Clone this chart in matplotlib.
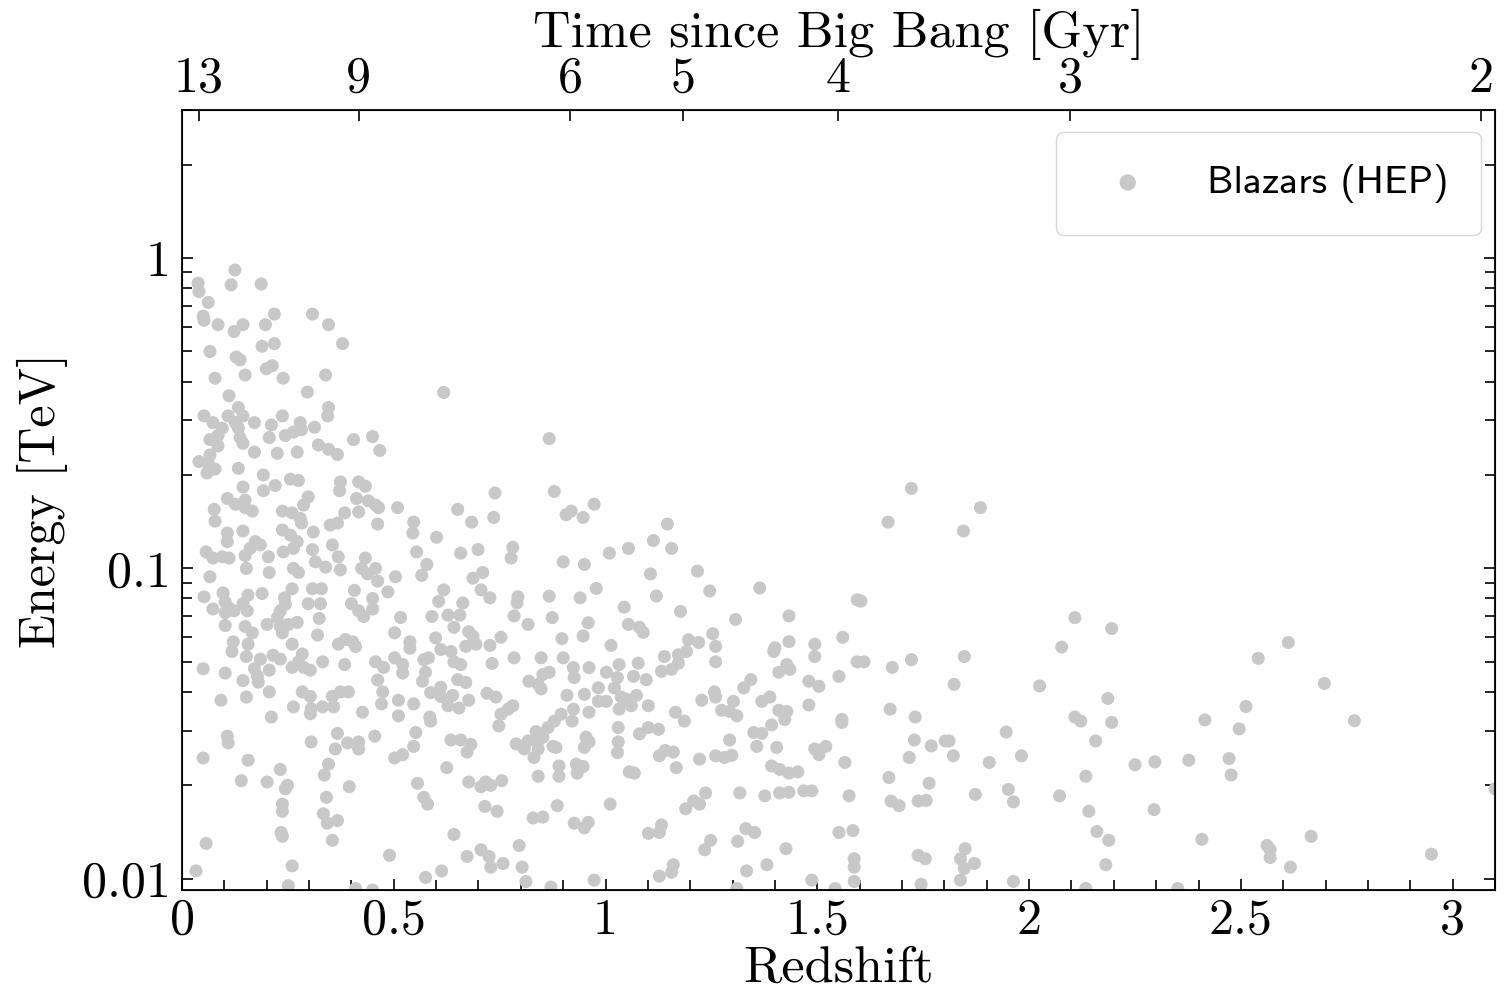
import matplotlib
matplotlib.use("Agg")
import matplotlib.pyplot as plt
from matplotlib.ticker import MultipleLocator, FuncFormatter, LogLocator, NullFormatter

# redshift / energy, grouped by region
redshift = [
    # z < 0.5, upper part
    0.125, 0.038, 0.040, 0.116, 0.187, 0.062, 0.050, 0.052, 0.085, 0.123, 0.144, 0.197, 0.218, 0.308, 0.346, 0.379,
    0.066, 0.128, 0.137, 0.189, 0.218, 0.199, 0.213, 0.078, 0.149, 0.239, 0.339, 0.296, 0.111, 0.133,
    0.052, 0.109, 0.144, 0.073, 0.126, 0.133, 0.171, 0.237, 0.211, 0.279, 0.346, 0.344, 0.095,
    0.085, 0.066, 0.085, 0.137, 0.144, 0.206, 0.244, 0.263, 0.282, 0.313, 0.322, 0.346, 0.367, 0.405, 0.450, 0.467,
    0.171, 0.225, 0.272, 0.040, 0.066, 0.062, 0.059, 0.078, 0.133, 0.192, 0.192, 0.220, 0.256, 0.275,
    0.374, 0.372, 0.417, 0.433, 0.144, 0.149, 0.107, 0.126, 0.149, 0.166, 0.076, 0.078,
    0.237, 0.260, 0.279, 0.282, 0.287, 0.298, 0.384, 0.412, 0.417, 0.440, 0.457, 0.464, 0.509, 0.462,
    0.350, 0.367, 0.144, 0.107, 0.107, 0.237, 0.256, 0.310, 0.173, 0.185, 0.161, 0.272, 0.263, 0.239, 0.355,
    0.057, 0.073, 0.095, 0.111, 0.149, 0.152, 0.204, 0.206, 0.308, 0.315, 0.339, 0.369, 0.374, 0.263, 0.275,
    0.433, 0.424, 0.457, 0.438, 0.504, 0.066,
    # z < 0.5, lower part
    0.462, 0.486, 0.052, 0.097, 0.102, 0.109, 0.073, 0.102, 0.123, 0.144, 0.156, 0.154, 0.189, 0.260,
    0.308, 0.329, 0.298, 0.327, 0.242, 0.244, 0.232, 0.225, 0.232, 0.237, 0.324, 0.102,
    0.149, 0.166, 0.156, 0.152, 0.201, 0.272, 0.251, 0.320, 0.121, 0.118, 0.260, 0.284, 0.215, 0.232, 0.185,
    0.260, 0.275, 0.287, 0.303, 0.206, 0.171, 0.178, 0.180, 0.050, 0.102, 0.144, 0.332,
    0.369, 0.386, 0.403, 0.410, 0.407, 0.400, 0.417, 0.429, 0.450, 0.450, 0.516, 0.502, 0.384,
    0.457, 0.476, 0.502, 0.521, 0.521, 0.462, 0.474, 0.471, 0.511, 0.511, 0.152, 0.092, 0.206,
    0.284, 0.303, 0.305, 0.303, 0.263, 0.211, 0.332, 0.358, 0.355, 0.374, 0.393, 0.426, 0.455,
    0.367, 0.391, 0.362, 0.417, 0.417, 0.305, 0.107, 0.109, 0.050, 0.156, 0.502, 0.521,
    0.232, 0.346, 0.336, 0.140, 0.201, 0.249, 0.244, 0.395, 0.237, 0.237, 0.341, 0.334, 0.343, 0.367,
    0.234, 0.237, 0.355, 0.057, 0.490, 0.260, 0.033, 0.251, 0.410, 0.450,
    # 0.5 < z < 1.05, upper part
    0.618, 0.867, 0.739, 0.879, 0.547, 0.545, 0.651, 0.684, 0.736, 0.601, 0.907, 0.919, 0.947, 0.973,
    0.554, 0.578, 0.566, 0.658, 0.699, 0.710, 0.687, 0.781, 0.777, 0.900, 0.950, 1.009, 1.054,
    # 0.5 < z < 1.05, lower part
    0.706, 0.727, 0.618, 0.606, 0.663, 0.590, 0.628, 0.656, 0.642, 0.793, 0.791, 0.784, 0.867, 0.874, 0.817,
    0.940, 0.978, 0.959, 0.947, 1.044, 1.054, 0.897, 1.013, 0.753, 0.727, 0.732, 0.784, 0.848, 0.900,
    0.538, 0.538, 0.599, 0.611, 0.635, 0.642, 0.658, 0.677, 0.687, 0.670, 0.694, 0.571, 0.582, 0.575, 0.568,
    0.587, 0.611, 0.611, 0.639, 0.628, 0.654, 0.677, 0.651, 0.670, 0.720, 0.741, 0.547, 0.585, 0.587, 0.552,
    0.547, 0.635, 0.658, 0.682, 0.673, 0.753, 0.770, 0.781, 0.748, 0.625, 0.556, 0.571, 0.580,
    0.677, 0.706, 0.717, 0.729, 0.755, 0.715, 0.744, 0.642, 0.673, 0.706, 0.725, 0.729, 0.758,
    0.796, 0.803, 0.812, 0.575, 0.613, 0.871, 0.973,
    0.789, 0.808, 0.817, 0.836, 0.841, 0.852, 0.831, 0.841, 0.864, 0.879, 0.895, 0.921, 0.924,
    0.819, 0.841, 0.852, 0.867, 0.848, 0.909, 0.924, 0.926, 0.950, 0.983, 0.961, 0.961,
    1.002, 1.028, 1.021, 1.032, 0.983, 1.002, 1.037, 1.032, 1.054, 1.030, 1.030, 1.028, 1.056,
    0.876, 0.883, 0.890, 0.890, 0.931, 0.947, 0.933, 0.841, 0.954, 0.961, 0.950,
    0.886, 0.829, 0.852, 0.926, 0.950, 0.959, 1.011,
    # 1.05 < z < 1.6
    1.146, 1.113, 1.156, 1.106, 1.217,
    1.120, 1.246, 1.364, 1.177, 1.307, 1.433, 1.080, 1.089,
    1.196, 1.220, 1.191, 1.172, 1.172, 1.156, 1.139, 1.132, 1.253, 1.260, 1.260, 1.077, 1.066, 1.096,
    1.049, 1.061, 1.073, 1.101, 1.397, 1.400, 1.433, 1.494, 1.494, 1.560, 1.594,
    1.409, 1.428, 1.435, 1.480, 1.504, 1.551, 1.326, 1.343, 1.257, 1.260, 1.227,
    1.274, 1.293, 1.302, 1.310, 1.369, 1.388, 1.409, 1.428, 1.423, 1.480, 1.558, 1.558,
    1.165, 1.186, 1.392, 1.080, 1.101, 1.125, 1.350, 1.369, 1.357, 1.293, 1.404,
    1.127, 1.141, 1.160, 1.222, 1.260, 1.281, 1.298, 1.494, 1.504, 1.520, 1.068, 1.167,
    1.392, 1.411, 1.433, 1.454, 1.565, 1.189, 1.208, 1.222, 1.236, 1.317,
    1.376, 1.411, 1.433, 1.468, 1.487, 1.575, 1.101, 1.127, 1.132, 1.234, 1.248, 1.312,
    1.331, 1.352, 1.426, 1.551, 1.584, 1.127, 1.160, 1.156, 1.333, 1.381, 1.487, 1.542,
    1.587, 1.587, 1.587, 1.310,
    # z > 1.6
    1.722, 1.667, 1.885, 1.845,
    1.603, 1.594, 1.610, 1.677, 1.722, 1.847, 1.823, 1.672, 1.731, 1.729, 1.717, 1.769, 1.802, 1.811,
    1.821, 1.906, 1.946, 1.982, 2.025, 2.077, 2.108, 2.195, 2.186, 2.108, 2.122, 2.195, 2.157, 2.134,
    1.669, 1.764, 1.674, 1.693, 1.738, 1.757, 1.873, 1.951, 1.963, 2.072, 2.141, 2.160, 2.188, 2.181,
    2.250, 2.297, 2.295, 1.738, 1.755, 1.849, 1.838, 1.847, 1.871, 1.838, 1.745, 1.963, 2.134, 2.351,
    2.612, 2.541, 2.697, 2.512, 2.415, 2.496, 2.768, 2.377, 2.472, 2.477, 3.100, 2.408,
    2.562, 2.569, 2.569, 2.666, 2.617, 2.950,
]

energy = [
    # z < 0.5, upper part
    0.915, 0.83, 0.78, 0.82, 0.825, 0.72, 0.65, 0.63, 0.61, 0.58, 0.61, 0.61, 0.66, 0.66, 0.61, 0.53,
    0.50, 0.48, 0.47, 0.52, 0.53, 0.44, 0.45, 0.41, 0.42, 0.41, 0.42, 0.37, 0.36, 0.33,
    0.31, 0.31, 0.31, 0.295, 0.295, 0.283, 0.295, 0.31, 0.29, 0.295, 0.33, 0.31, 0.283,
    0.268, 0.26, 0.248, 0.264, 0.253, 0.264, 0.268, 0.275, 0.28, 0.285, 0.25, 0.242, 0.233, 0.26, 0.266, 0.24,
    0.237, 0.235, 0.237, 0.221, 0.232, 0.218, 0.203, 0.209, 0.21, 0.20, 0.178, 0.185, 0.194, 0.192,
    0.19, 0.178, 0.19, 0.184, 0.183, 0.166, 0.168, 0.161, 0.157, 0.153, 0.155, 0.142,
    0.153, 0.151, 0.145, 0.140, 0.16, 0.17, 0.151, 0.168, 0.152, 0.165, 0.16, 0.157, 0.157, 0.139,
    0.138, 0.14, 0.132, 0.13, 0.122, 0.133, 0.128, 0.131, 0.122, 0.119, 0.116, 0.122, 0.116, 0.113, 0.119,
    0.113, 0.108, 0.109, 0.108, 0.11, 0.1, 0.109, 0.097, 0.115, 0.105, 0.101, 0.109, 0.099, 0.1, 0.097,
    0.108, 0.1, 0.1, 0.096, 0.094, 0.094,
    # z < 0.5, lower part
    0.091, 0.084, 0.081, 0.0834, 0.078, 0.075, 0.074, 0.072, 0.073, 0.077, 0.082, 0.073, 0.083, 0.086,
    0.086, 0.086, 0.077, 0.077, 0.0804, 0.0766, 0.073, 0.0694, 0.065, 0.062, 0.069, 0.0655,
    0.065, 0.062, 0.057, 0.052, 0.066, 0.067, 0.066, 0.061, 0.058, 0.054, 0.057, 0.053, 0.0525, 0.051, 0.051,
    0.048, 0.05, 0.048, 0.047, 0.047, 0.0475, 0.045, 0.043, 0.0475, 0.046, 0.0435, 0.05,
    0.057, 0.059, 0.058, 0.056, 0.085, 0.077, 0.073, 0.070, 0.074, 0.080, 0.0695, 0.062, 0.049,
    0.05, 0.048, 0.0515, 0.049, 0.046, 0.0437, 0.040, 0.0366, 0.0376, 0.0335, 0.0385, 0.0376, 0.040,
    0.040, 0.0387, 0.0353, 0.034, 0.0358, 0.0332, 0.0358, 0.0358, 0.0387, 0.040, 0.040, 0.0344, 0.0288,
    0.0294, 0.0274, 0.0262, 0.0276, 0.0262, 0.0276, 0.0288, 0.0274, 0.0245, 0.0241, 0.0245, 0.0251,
    0.0225, 0.0234, 0.0216, 0.0207, 0.0205, 0.020, 0.0195, 0.0198, 0.0174, 0.0165, 0.0183, 0.0162, 0.0151, 0.0154,
    0.0141, 0.0137, 0.0133, 0.013, 0.0119, 0.011, 0.0106, 0.0095, 0.0093, 0.0092,
    # 0.5 < z < 1.05, upper part
    0.369, 0.262, 0.175, 0.177, 0.141, 0.130, 0.155, 0.141, 0.146, 0.126, 0.149, 0.153, 0.146, 0.161,
    0.113, 0.103, 0.095, 0.112, 0.115, 0.097, 0.093, 0.117, 0.108, 0.105, 0.103, 0.112, 0.116,
    # 0.5 < z < 1.05, lower part
    0.0853, 0.0804, 0.0853, 0.0783, 0.0774, 0.070, 0.0707, 0.0707, 0.0646, 0.081, 0.0774, 0.0703, 0.0814, 0.0694, 0.066,
    0.0804, 0.0862, 0.0668, 0.0606, 0.075, 0.066, 0.0594, 0.0565, 0.060, 0.0565, 0.0494, 0.0515, 0.0515, 0.0515,
    0.058, 0.0553, 0.0597, 0.0548, 0.054, 0.050, 0.049, 0.0625, 0.0604, 0.0561, 0.057, 0.0508, 0.0515, 0.0463, 0.0433,
    0.0398, 0.0414, 0.0387, 0.039, 0.0361, 0.0355, 0.0376, 0.0438, 0.0429, 0.0396, 0.0385, 0.0366, 0.0332, 0.0322, 0.0296,
    0.0267, 0.028, 0.028, 0.0271, 0.0256, 0.0339, 0.0352, 0.0361, 0.0311, 0.0228, 0.0203, 0.0183, 0.0174,
    0.0205, 0.0198, 0.0205, 0.020, 0.0207, 0.0171, 0.0165, 0.0139, 0.0118, 0.0124, 0.0118, 0.0109, 0.0112,
    0.0128, 0.0109, 0.0098, 0.0101, 0.0106, 0.0094, 0.0099,
    0.0272, 0.0262, 0.0278, 0.0298, 0.0278, 0.0286, 0.0246, 0.0262, 0.0307, 0.0322, 0.0339, 0.0322, 0.0352,
    0.0433, 0.0423, 0.0455, 0.0463, 0.0409, 0.039, 0.0479, 0.0445, 0.0393, 0.0412, 0.0344, 0.0479,
    0.0463, 0.0445, 0.0412, 0.049, 0.0373, 0.0373, 0.0385, 0.0352, 0.0373, 0.0307, 0.0276, 0.0255, 0.0221,
    0.0267, 0.0265, 0.0231, 0.0214, 0.0234, 0.023, 0.0219, 0.0214, 0.0286, 0.0276, 0.0265,
    0.0172, 0.0157, 0.0158, 0.0151, 0.0146, 0.0152, 0.0174,
    # 1.05 < z < 1.6
    0.139, 0.123, 0.116, 0.096, 0.098,
    0.0815, 0.0846, 0.0865, 0.0727, 0.0685, 0.0703, 0.0646, 0.0622,
    0.0589, 0.0577, 0.054, 0.0527, 0.0495, 0.0473, 0.052, 0.0466, 0.0616, 0.0561, 0.050, 0.0495, 0.0449, 0.0438,
    0.0379, 0.0361, 0.039, 0.0361, 0.054, 0.0555, 0.0581, 0.057, 0.052, 0.060, 0.0792,
    0.0463, 0.049, 0.0473, 0.0433, 0.0417, 0.0449, 0.0412, 0.0438, 0.040, 0.0385, 0.0376,
    0.0349, 0.0346, 0.0373, 0.0335, 0.0373, 0.0385, 0.0349, 0.0346, 0.0326, 0.0363, 0.0326, 0.0319,
    0.0344, 0.0322, 0.0313, 0.0293, 0.0307, 0.0303, 0.0296, 0.0294, 0.0267, 0.028, 0.0265,
    0.0249, 0.0259, 0.0256, 0.0243, 0.0249, 0.0246, 0.025, 0.0262, 0.0251, 0.0267, 0.0219, 0.0228,
    0.0231, 0.0225, 0.0219, 0.0221, 0.0237, 0.0168, 0.0178, 0.0174, 0.0189, 0.0189,
    0.0185, 0.0189, 0.019, 0.0192, 0.0192, 0.0185, 0.014, 0.0141, 0.0149, 0.0124, 0.0133, 0.0132,
    0.0145, 0.0141, 0.0125, 0.0141, 0.0143, 0.0102, 0.0111, 0.0105, 0.0106, 0.0111, 0.0099, 0.0093,
    0.0116, 0.0109, 0.0098, 0.0093,
    # z > 1.6
    0.181, 0.141, 0.157, 0.132,
    0.0785, 0.050, 0.050, 0.048, 0.0508, 0.052, 0.0423, 0.0352, 0.0332, 0.028, 0.0246, 0.0268, 0.0278, 0.0278,
    0.0249, 0.0237, 0.0297, 0.0249, 0.0418, 0.0558, 0.0694, 0.064, 0.0381, 0.0332, 0.0322, 0.0319, 0.0278, 0.0214,
    0.0212, 0.0203, 0.0178, 0.0172, 0.0178, 0.0179, 0.0187, 0.0194, 0.0177, 0.0185, 0.0165, 0.0142, 0.0133, 0.0111,
    0.0233, 0.0238, 0.0167, 0.0119, 0.0116, 0.0125, 0.0116, 0.0108, 0.0112, 0.0099, 0.0096, 0.0098, 0.0093, 0.0093,
    0.0577, 0.0513, 0.0426, 0.0359, 0.0325, 0.0304, 0.0323, 0.0241, 0.0244, 0.0216, 0.0195, 0.0134,
    0.0128, 0.0124, 0.0117, 0.0137, 0.0109, 0.0120,
]

# top axis: cosmic time [Gyr] and the redshift where each tick sits
age_ticks = [13, 9, 6, 5, 4, 3, 2]
age_tick_z = [0.039, 0.417, 0.917, 1.182, 1.548, 2.097, 3.066]

assert len(redshift) == len(energy), (len(redshift), len(energy))

plt.rcParams["font.family"] = "cmr10"
plt.rcParams["mathtext.fontset"] = "cm"
plt.rcParams["axes.formatter.use_mathtext"] = True

fig = plt.figure(figsize=(15.04, 10), dpi=100)
ax = fig.add_axes([182 / 1504, 0.11, (1495 - 182) / 1504, 0.78])

ax.scatter(redshift, energy, s=88, color="#c8c8c8", edgecolors="none",
           label="Blazars (HEP)", zorder=2)

ax.set_yscale("log")
ax.set_xlim(0, 3.1)
ax.set_ylim(0.0092, 3.0)
ax.set_yticks([0.01, 0.1, 1], labels=["0.01", "0.1", "1"])
ax.yaxis.set_minor_locator(LogLocator(subs=range(2, 10)))
ax.yaxis.set_minor_formatter(NullFormatter())
ax.xaxis.set_major_locator(MultipleLocator(0.5))
ax.xaxis.set_minor_locator(MultipleLocator(0.1))
ax.xaxis.set_major_formatter(FuncFormatter(lambda v, p: f"{v:g}"))

ax.tick_params(which="both", direction="in", right=True, top=False, width=1.2)
ax.tick_params(which="major", length=8, labelsize=36)
ax.tick_params(which="minor", length=7)
ax.tick_params(axis="x", pad=6)
ax.tick_params(axis="y", pad=8)
for s in ax.spines.values():
    s.set_linewidth(1.3)

ax.set_xlabel("Redshift", fontsize=37.5, labelpad=1)
ax.set_ylabel("Energy [TeV]", fontsize=36, labelpad=10)

top = ax.twiny()
top.set_xlim(ax.get_xlim())
top.set_xticks(age_tick_z, labels=[str(a) for a in age_ticks])
top.tick_params(direction="in", length=8, width=1.2, labelsize=36, pad=6)
top.set_xlabel("Time since Big Bang [Gyr]", fontsize=37.5, labelpad=6)

ax.legend(loc="upper right", bbox_to_anchor=(0.9893, 0.9718), borderaxespad=0,
          prop={"family": "cmss10", "size": 28.7}, borderpad=0.8,
          handlelength=2.0, handletextpad=1.0, markerscale=1.25)

plt.savefig("out.png", dpi=100)
